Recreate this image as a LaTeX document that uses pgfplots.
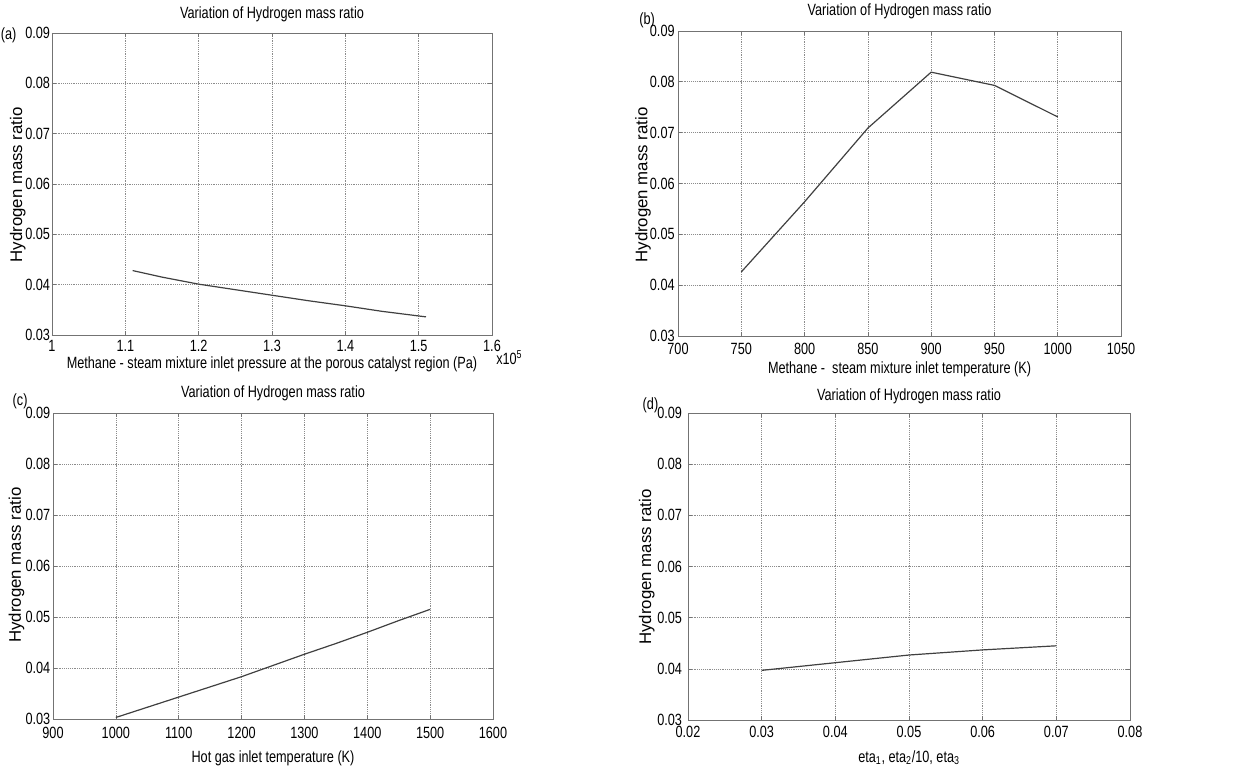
\documentclass[border=0pt]{standalone}
\usepackage{fontspec}
\setmainfont{Liberation Sans}[FakeStretch=0.78]
\newfontfamily\plainsans{Liberation Sans}
\usepackage{pgfplots}
\pgfplotsset{compat=1.18}
\newcommand{\lab}{\fontsize{12.2}{14}\selectfont}
\newcommand{\ylab}{\plainsans\fontsize{12.6}{14}\selectfont}
\pgfplotsset{
  curve/.style={color=black!75, line width=0.9pt, mark=none},
  mat/.style={
    scale only axis,
    anchor=south west,
    xmajorgrids, ymajorgrids,
    grid style={densely dotted, black!45, line width=0.5pt},
    axis line style={black!55, line width=0.7pt},
    tick align=inside, major tick length=3pt,
    tick style={black!55, line width=0.5pt},
    ymin=0.03, ymax=0.09,
    ytick={0.03,0.04,0.05,0.06,0.07,0.08,0.09},
    yticklabel style={/pgf/number format/fixed, /pgf/number format/fixed zerofill, /pgf/number format/precision=2},
    scaled ticks=false,
    /pgf/number format/1000 sep={},
    /pgf/number format/assume math mode=true,
    tick label style={font=\lab},
    xlabel style={font=\lab},
    ylabel style={font=\ylab},
    title style={font=\lab, anchor=base},
    title={Variation of Hydrogen mass ratio},
    ylabel={Hydrogen mass ratio},
  }
}
\begin{document}
\begin{tikzpicture}
\useasboundingbox (0,0) rectangle (938.25pt,575.25pt);
% (a)
\begin{axis}[mat, at={(39pt,324pt)}, width=330pt, height=226.5pt,
  xmin=1, xmax=1.6, xtick={1,1.1,1.2,1.3,1.4,1.5,1.6},
  title style={at={(axis description cs:0.5,1)}, yshift=5pt},
  xlabel={Methane - steam mixture inlet pressure at the porous catalyst region (Pa)},
  xlabel style={at={(axis description cs:0.5,0)}, anchor=base, yshift=-25pt},
  ylabel style={at={(axis description cs:-0.078,0.497)}, anchor=center},
  xticklabel style={yshift=-0.3pt},
  yticklabel style={xshift=2pt}]
\addplot[curve] coordinates {(1.11,0.0428) (1.15,0.0415) (1.20,0.0401) (1.25,0.0390) (1.30,0.0379) (1.35,0.0368) (1.40,0.0358) (1.45,0.0347) (1.51,0.0336)};
\end{axis}
% (b)
\begin{axis}[mat, at={(508.5pt,323.25pt)}, width=332.25pt, height=228.75pt,
  xmin=700, xmax=1050, xtick={700,750,800,850,900,950,1000,1050},
  title style={at={(axis description cs:0.5,1)}, yshift=5.6pt},
  xlabel={Methane -\ \ steam mixture inlet temperature (K)},
  xlabel style={at={(axis description cs:0.5,0)}, anchor=base, yshift=-28.5pt},
  ylabel style={at={(axis description cs:-0.079,0.495)}, anchor=center},
  xticklabel style={yshift=-1.5pt},
  yticklabel style={xshift=1pt}]
\addplot[curve] coordinates {(750,0.0426) (800,0.0564) (850,0.0709) (900,0.0819) (950,0.0793) (1000,0.0731)};
\end{axis}
% (c)
\begin{axis}[mat, at={(39.75pt,36pt)}, width=330pt, height=229.5pt,
  xmin=900, xmax=1600, xtick={900,1000,1100,1200,1300,1400,1500,1600},
  title style={at={(axis description cs:0.5,1)}, yshift=5.3pt},
  xlabel={Hot gas inlet temperature (K)},
  xlabel style={at={(axis description cs:0.5,0)}, anchor=base, yshift=-32.25pt},
  ylabel style={at={(axis description cs:-0.083,0.503)}, anchor=center},
  xticklabel style={yshift=-2.5pt},
  yticklabel style={xshift=1.5pt}]
\addplot[curve] coordinates {(1000,0.0303) (1050,0.0323) (1100,0.0343) (1150,0.0363) (1200,0.0383) (1250,0.0405) (1300,0.0427) (1350,0.0448) (1400,0.0470) (1450,0.0493) (1500,0.0515)};
\end{axis}
% (d)
\begin{axis}[mat, at={(516pt,35.25pt)}, width=331.5pt, height=230.25pt,
  xmin=0.02, xmax=0.08, xtick={0.02,0.03,0.04,0.05,0.06,0.07,0.08},
  xticklabel style={/pgf/number format/fixed, /pgf/number format/fixed zerofill, /pgf/number format/precision=2, yshift=-1pt},
  title style={at={(axis description cs:0.5,1)}, yshift=3.4pt},
  xlabel={eta\textsubscript{1}, eta\textsubscript{2}/10, eta\textsubscript{3}},
  xlabel style={at={(axis description cs:0.5,0)}, anchor=base, yshift=-31.5pt},
  ylabel style={at={(axis description cs:-0.093,0.498)}, anchor=center},
  yticklabel style={xshift=-1pt}]
\addplot[curve] coordinates {(0.03,0.0397) (0.04,0.0412) (0.05,0.0427) (0.06,0.0437) (0.07,0.0445)};
\end{axis}
\node[font=\lab, anchor=east] at (15.75pt,549pt) {(a)};
\node[font=\lab, anchor=west] at (476pt,560pt) {(b)};
\node[font=\lab, anchor=west] at (6pt,274.5pt) {(c)};
\node[font=\lab, anchor=west] at (478.5pt,271.5pt) {(d)};
\node[font=\lab, anchor=west, inner sep=0pt] at (372pt,306.75pt) {x10\textsuperscript{5}};
\end{tikzpicture}
\end{document}
